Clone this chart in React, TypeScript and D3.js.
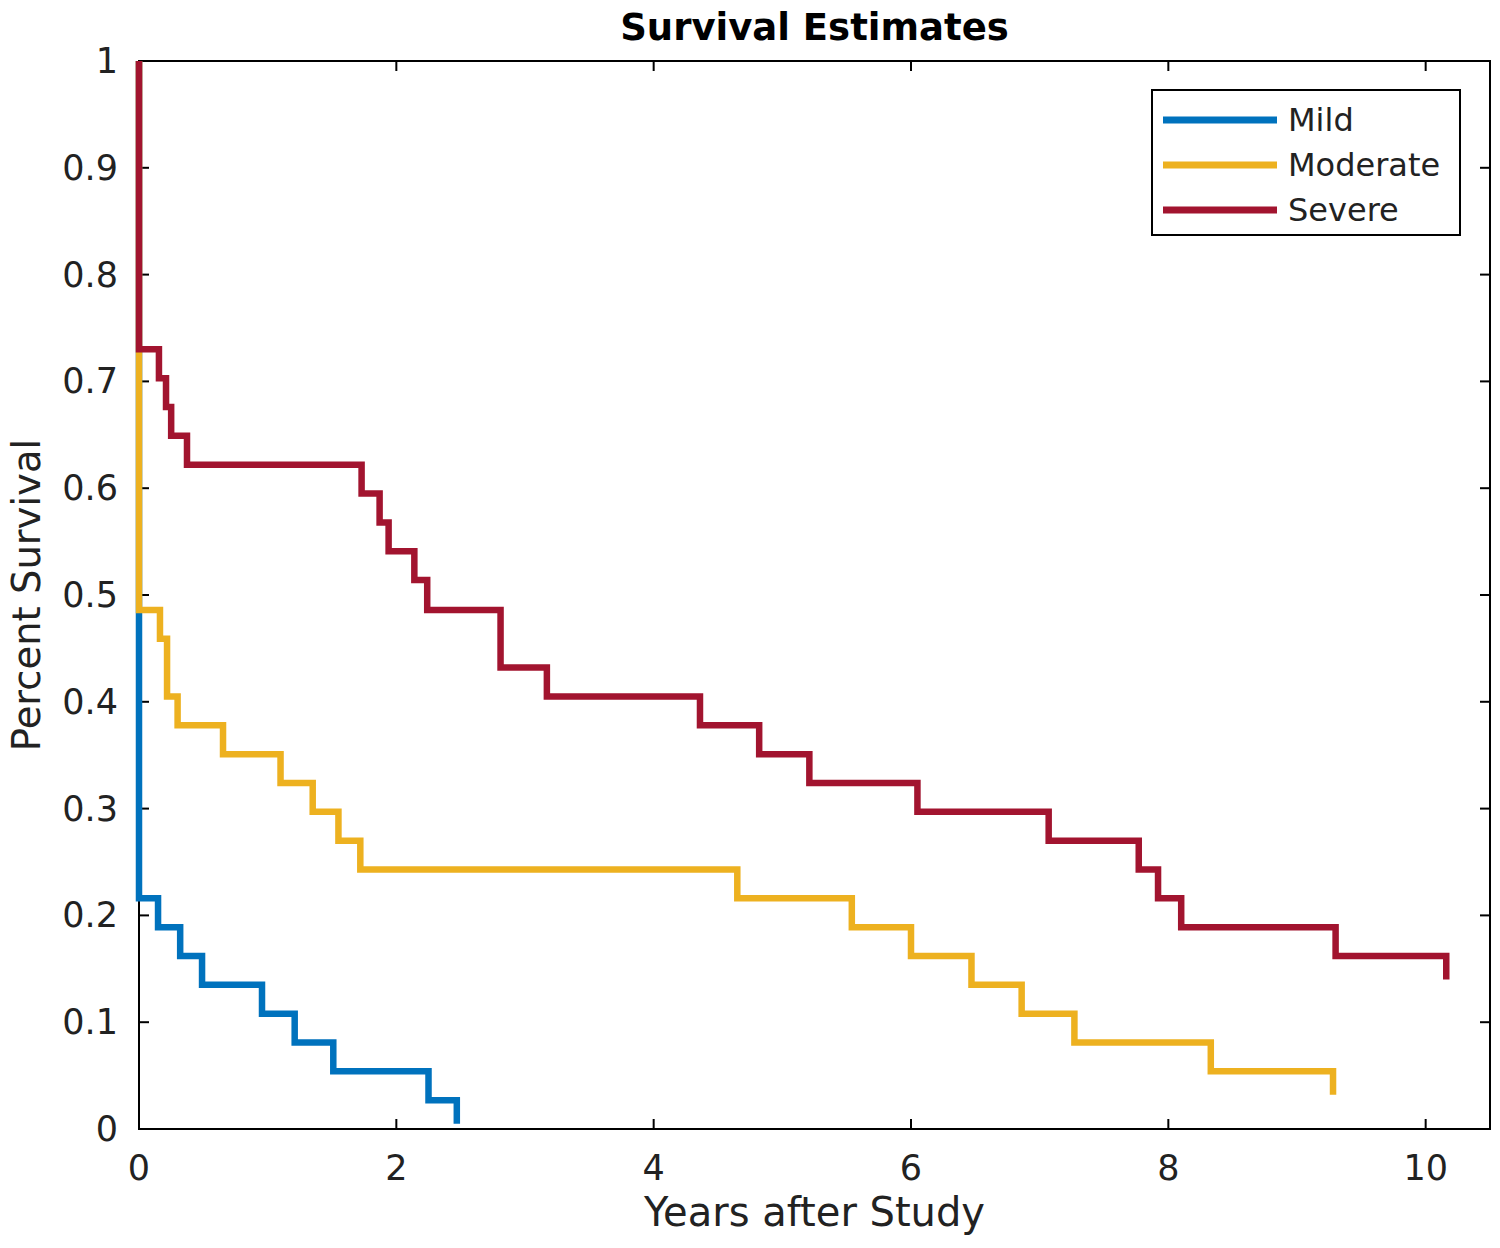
import React from "react";
import * as d3 from "d3";

// ---- data ----
const seriesNames = ["Mild", "Moderate", "Severe"];
const seriesColors = ["#0072BD", "#EDB120", "#A2142F"];

const mildTimes = [0, 0.148, 0.32, 0.49, 0.956, 1.21, 1.51, 2.25, 2.47];
const mildSurv = [0.216, 0.189, 0.162, 0.135, 0.108, 0.081, 0.054, 0.027, 0.005];

const moderateTimes = [0, 0.163, 0.218, 0.3, 0.653, 1.1, 1.35, 1.55, 1.72, 4.65, 5.54, 6.0, 6.47, 6.86, 7.27, 8.33, 9.28];
const moderateSurv = [0.486, 0.459, 0.405, 0.378, 0.351, 0.324, 0.297, 0.27, 0.243, 0.216, 0.189, 0.162, 0.135, 0.108, 0.081, 0.054, 0.032];

const severeTimes = [0, 0.155, 0.21, 0.25, 0.373, 1.73, 1.87, 1.94, 2.14, 2.24, 2.81, 3.17, 4.36, 4.82, 5.21, 6.05, 7.07, 7.77, 7.92, 8.1, 9.3, 10.16];
const severeSurv = [0.73, 0.703, 0.676, 0.649, 0.622, 0.595, 0.568, 0.541, 0.514, 0.486, 0.432, 0.405, 0.378, 0.351, 0.324, 0.297, 0.27, 0.243, 0.216, 0.189, 0.162, 0.14];

const xTicks = [0, 2, 4, 6, 8, 10];
const yTicks = [0, 0.1, 0.2, 0.3, 0.4, 0.5, 0.6, 0.7, 0.8, 0.9, 1];
const xDomain = [0, 10.5];
const yDomain = [0, 1];

const titleText = "Survival Estimates";
const xLabelText = "Years after Study";
const yLabelText = "Percent Survival";

export default function App() {
  const W = 1500, H = 1248;
  const left = 139, right = 1490, top = 61, bottom = 1129;
  const x = d3.scaleLinear().domain(xDomain).range([left, right]);
  const y = d3.scaleLinear().domain(yDomain).range([bottom, top]);
  const font = "'DejaVu Sans', sans-serif";

  const allTimes = [mildTimes, moderateTimes, severeTimes];
  const allSurv = [mildSurv, moderateSurv, severeSurv];

  const line = d3
    .line<[number, number]>()
    .x((d) => x(d[0]))
    .y((d) => y(d[1]))
    .curve(d3.curveStepAfter);

  const paths = allTimes.map((ts, i) => {
    const pts: [number, number][] = [[0, 1]];
    ts.forEach((t, j) => pts.push([t, allSurv[i][j]]));
    return line(pts) || "";
  });

  const tickLen = 10;
  const legend = { x0: 1152, y0: 90, x1: 1460, y1: 235 };
  const legendRows = [120, 165, 210];

  return (
    <svg
      width={W}
      height={H}
      style={{ position: "absolute", left: 0, top: 0, background: "#fff" }}
      fontFamily={font}
    >
      <rect x={0} y={0} width={W} height={H} fill="#fff" />
      {/* title */}
      <text x={(left + right) / 2} y={40} textAnchor="middle" fontSize={37} fontWeight="bold" fill="#000">
        {titleText}
      </text>
      {/* axes box */}
      <rect x={left} y={top} width={right - left} height={bottom - top} fill="none" stroke="#000" strokeWidth={2} />
      {/* x ticks */}
      {xTicks.map((t) => (
        <g key={"xt" + t}>
          <line x1={x(t)} x2={x(t)} y1={bottom} y2={bottom - tickLen} stroke="#000" strokeWidth={2} />
          <line x1={x(t)} x2={x(t)} y1={top} y2={top + tickLen} stroke="#000" strokeWidth={2} />
          <text x={x(t)} y={1180} textAnchor="middle" fontSize={35} fill="#222">
            {t}
          </text>
        </g>
      ))}
      {/* y ticks */}
      {yTicks.map((t) => (
        <g key={"yt" + t}>
          <line x1={left} x2={left + tickLen} y1={y(t)} y2={y(t)} stroke="#000" strokeWidth={2} />
          <line x1={right} x2={right - tickLen} y1={y(t)} y2={y(t)} stroke="#000" strokeWidth={2} />
          <text x={118} y={y(t)} textAnchor="end" dominantBaseline="central" fontSize={35} fill="#222">
            {d3.format("~g")(t)}
          </text>
        </g>
      ))}
      {/* curves */}
      {paths.map((p, i) => (
        <path key={"p" + i} d={p} fill="none" stroke={seriesColors[i]} strokeWidth={6.5} strokeLinejoin="miter" strokeLinecap="butt" />
      ))}
      {/* axis labels */}
      <text x={(left + right) / 2} y={1226} textAnchor="middle" fontSize={40} fill="#222">
        {xLabelText}
      </text>
      <text transform={`translate(40, ${(top + bottom) / 2}) rotate(-90)`} textAnchor="middle" fontSize={38.5} fill="#222">
        {yLabelText}
      </text>
      {/* legend */}
      <rect x={legend.x0} y={legend.y0} width={legend.x1 - legend.x0} height={legend.y1 - legend.y0} fill="#fff" stroke="#000" strokeWidth={2} />
      {seriesNames.map((n, i) => (
        <g key={"lg" + n}>
          <line x1={1163} x2={1277} y1={legendRows[i]} y2={legendRows[i]} stroke={seriesColors[i]} strokeWidth={7} />
          <text x={1288} y={legendRows[i]} dominantBaseline="central" fontSize={32} fill="#222">
            {n}
          </text>
        </g>
      ))}
    </svg>
  );
}
